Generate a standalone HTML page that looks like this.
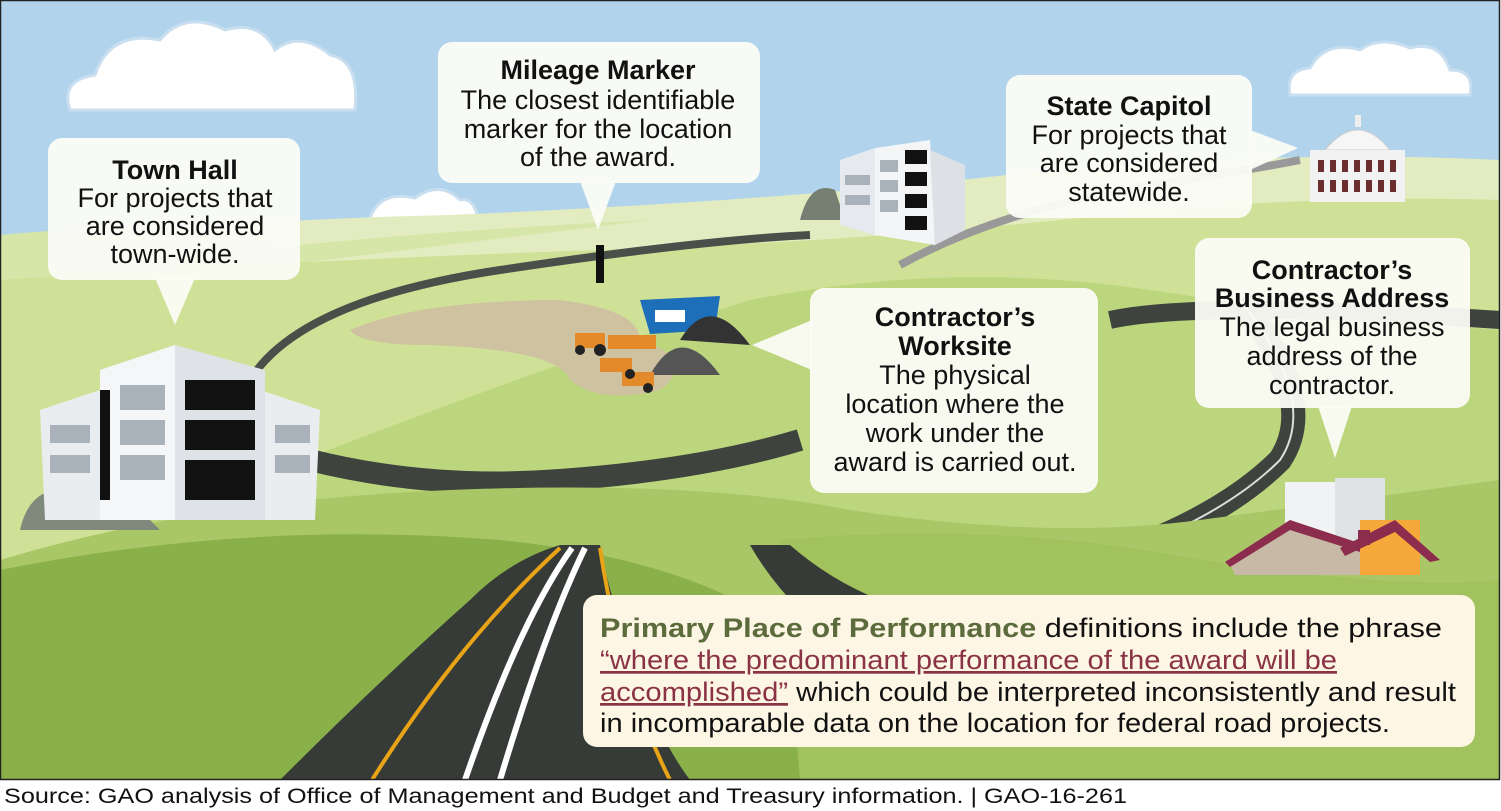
<!DOCTYPE html>
<html><head><meta charset="utf-8"><style>
html,body{margin:0;padding:0;background:#fff;width:1501px;height:811px;overflow:hidden}
svg{display:block}
text{font-family:"Liberation Sans",Arial,sans-serif}
</style></head><body>
<svg width="1501" height="811" viewBox="0 0 1501 811" xmlns="http://www.w3.org/2000/svg">
<defs><clipPath id="c"><rect x="1" y="1" width="1498" height="778"/></clipPath></defs>
<g clip-path="url(#c)">
<rect x="0" y="0" width="1501" height="780" fill="#b2d3ec"/>
<g fill="#fff" stroke="#c9dff0" stroke-width="3">
<path d="M70 110 Q60 80 95 75 Q110 30 160 40 Q185 10 225 30 Q260 20 275 50 Q300 30 330 55 Q360 60 355 110 Z"/>
<path d="M360 245 Q345 225 370 218 Q380 190 415 198 Q440 180 460 200 Q480 195 480 245 Z"/>
<path d="M1290 95 Q1285 70 1310 68 Q1325 40 1360 50 Q1380 35 1410 48 Q1440 40 1450 70 Q1475 70 1470 95 Z"/>
</g>
<path d="M0 250 Q200 220 450 215 Q800 200 1050 170 Q1300 150 1500 160 L1500 780 L0 780 Z" fill="#e3ecc0"/>
<path d="M0 235 Q150 220 300 245 Q450 230 650 220 L0 300 Z" fill="#d6e6a8"/>
<path d="M0 280 Q300 260 600 250 Q900 240 1150 210 Q1350 195 1500 200 L1500 780 L0 780 Z" fill="#cfe196"/>
<path d="M150 520 Q500 380 750 300 Q950 260 1150 290 Q1350 320 1500 330 L1500 780 L0 780 Z" fill="#bcd67e"/>
<path d="M250 380 Q300 300 500 270 Q700 240 810 235" stroke="#4a4f4a" stroke-width="8" fill="none"/>
<path d="M900 265 Q1000 210 1150 185 Q1250 170 1300 160" stroke="#999" stroke-width="8" fill="none"/>
<path d="M350 330 Q420 300 560 300 Q640 310 640 340 Q700 360 660 390 Q600 405 570 380 Q560 350 430 345 Q360 345 350 330Z" fill="#cfc2a0"/>
<path d="M310 460 Q430 490 560 480 Q700 470 800 440" stroke="#3e433e" stroke-width="22" fill="none"/>
<path d="M1500 320 Q1200 300 1110 320" stroke="#3e433e" stroke-width="18" fill="none"/>
<path d="M1240 300 Q1320 400 1280 460 Q1220 520 1100 560" stroke="#3e433e" stroke-width="24" fill="none"/>
<path d="M1240 300 Q1320 400 1280 460 Q1220 520 1100 560" stroke="#ddd" stroke-width="2" fill="none"/>
<path d="M0 560 Q200 500 450 490 Q700 480 850 510 Q1050 540 1200 520 Q1350 500 1500 480 L1500 780 L0 780 Z" fill="#a9c766"/>
<path d="M0 570 Q250 520 500 540 Q700 560 800 640 Q900 720 900 780 L0 780 Z" fill="#89b049"/>
<path d="M780 540 Q1000 520 1200 560 Q1400 590 1500 580 L1500 780 L800 780Z" fill="#a1c25c"/>
<path d="M280 780 Q380 680 470 600 Q510 560 560 545 L600 545 Q610 600 640 680 Q660 740 690 780 Z" fill="#363b37"/>
<path d="M750 545 L790 545 Q830 580 880 600 L800 610 Q770 580 750 545Z" fill="#363b37"/>
<path d="M372 780 Q460 640 560 548" stroke="#e8a317" stroke-width="4" fill="none"/>
<path d="M465 780 Q520 620 572 548" stroke="#fff" stroke-width="6" fill="none"/>
<path d="M500 780 Q545 630 585 548" stroke="#fff" stroke-width="6" fill="none"/>
<path d="M600 548 Q620 680 670 780" stroke="#e8a317" stroke-width="4" fill="none"/>
<rect x="596" y="245" width="8" height="38" fill="#111"/>
<polygon points="640,300 720,296 715,330 650,334" fill="#1c6fb8"/>
<rect x="655" y="310" width="30" height="12" fill="#fff"/>
<path d="M680 340 Q710 290 750 345 Z" fill="#333"/>
<path d="M650 375 Q680 320 720 375 Z" fill="#555"/>
<g fill="#e58a2a"><rect x="575" y="333" width="30" height="15"/><rect x="608" y="335" width="48" height="14"/><rect x="600" y="358" width="32" height="14"/><rect x="622" y="372" width="32" height="14"/></g>
<g fill="#222"><circle cx="580" cy="350" r="5"/><circle cx="600" cy="350" r="6"/><circle cx="630" cy="374" r="5"/><circle cx="648" cy="388" r="5"/></g>
<g>
<path d="M20 530 Q30 485 70 490 Q100 480 130 500 L160 530 Z" fill="#808a7c"/>
<polygon points="40,410 100,390 100,520 45,520" fill="#e9edf0"/>
<polygon points="260,390 320,410 315,520 260,520" fill="#e9edf0"/>
<polygon points="100,370 175,345 175,520 100,520" fill="#f4f6f8"/>
<polygon points="175,345 265,370 265,520 175,520" fill="#dfe3e7"/>
<g fill="#111"><rect x="185" y="380" width="70" height="30"/><rect x="185" y="420" width="70" height="30"/><rect x="185" y="460" width="70" height="40"/><rect x="100" y="390" width="10" height="110"/></g>
<g fill="#a9b2bb"><rect x="120" y="385" width="45" height="25"/><rect x="120" y="420" width="45" height="25"/><rect x="120" y="455" width="45" height="25"/><rect x="50" y="425" width="40" height="18"/><rect x="50" y="455" width="40" height="18"/><rect x="275" y="425" width="35" height="18"/><rect x="275" y="455" width="35" height="18"/></g>
</g>
<path d="M800 220 Q810 180 835 190 L845 220 Z" fill="#777e72"/>
<polygon points="840,160 875,148 875,235 840,225" fill="#e6eaee"/>
<polygon points="875,148 930,140 935,245 875,235" fill="#f3f5f7"/>
<polygon points="930,150 965,165 965,230 935,245" fill="#dde1e5"/>
<g fill="#111"><rect x="905" y="150" width="22" height="14"/><rect x="905" y="172" width="22" height="14"/><rect x="905" y="194" width="22" height="14"/><rect x="905" y="216" width="22" height="14"/></g>
<g fill="#a9b2bb"><rect x="880" y="160" width="18" height="12"/><rect x="880" y="180" width="18" height="12"/><rect x="880" y="200" width="18" height="12"/><rect x="845" y="175" width="25" height="10"/><rect x="845" y="195" width="25" height="10"/></g>
<path d="M1325 150 Q1358 110 1390 150 Z" fill="#f6f6f6" stroke="#ccc"/>
<rect x="1355" y="115" width="6" height="12" fill="#eee"/>
<rect x="1310" y="150" width="95" height="52" fill="#f2f2f2"/>
<g fill="#6b2e2e"><rect x="1318" y="160" width="6" height="12"/><rect x="1330" y="160" width="6" height="12"/><rect x="1342" y="160" width="6" height="12"/><rect x="1354" y="160" width="6" height="12"/><rect x="1366" y="160" width="6" height="12"/><rect x="1378" y="160" width="6" height="12"/><rect x="1390" y="160" width="6" height="12"/><rect x="1318" y="180" width="6" height="12"/><rect x="1330" y="180" width="6" height="12"/><rect x="1342" y="180" width="6" height="12"/><rect x="1354" y="180" width="6" height="12"/><rect x="1366" y="180" width="6" height="12"/><rect x="1378" y="180" width="6" height="12"/><rect x="1390" y="180" width="6" height="12"/></g>
<rect x="1285" y="482" width="50" height="70" fill="#f0f2f3"/>
<rect x="1335" y="478" width="50" height="72" fill="#dfe3e6"/>
<polygon points="1228,560 1290,520 1360,548 1360,575 1235,575" fill="#c7b9a6"/>
<polygon points="1225,562 1290,520 1365,545 1360,552 1290,530 1230,567" fill="#8c2d4d"/>
<rect x="1360" y="520" width="60" height="55" fill="#f6a93a"/>
<polygon points="1340,548 1395,520 1440,560 1430,562 1395,532 1345,556" fill="#8c2d4d"/>
<rect x="1358" y="530" width="12" height="15" fill="#8c2d4d"/>
</g>
<rect x="0.5" y="0.5" width="1499" height="779" fill="none" stroke="#222" stroke-width="1.5"/>
<g fill="#fbfcf6" fill-opacity="0.95">
<rect x="48" y="138" width="252" height="142" rx="14"/><polygon points="155,278 195,278 175,325"/>
<rect x="438" y="42" width="322" height="141" rx="14"/><polygon points="580,181 616,181 598,230"/>
<rect x="1006" y="75" width="246" height="143" rx="14"/><polygon points="1250,130 1250,170 1298,148"/>
<rect x="810" y="288" width="288" height="205" rx="14"/><polygon points="812,320 812,370 752,345"/>
<rect x="1195" y="238" width="275" height="170" rx="14"/><polygon points="1318,406 1352,406 1335,458"/>
</g>
<rect x="583" y="595" width="892" height="152" rx="14" fill="#fdf6e4"/>
<g font-size="27" fill="#111" text-anchor="middle">
<text x="175" y="179" font-weight="bold">Town Hall</text>
<text x="175" y="207">For projects that</text><text x="175" y="235">are considered</text><text x="175" y="263">town-wide.</text>
<text x="598" y="79" font-weight="bold">Mileage Marker</text>
<text x="598" y="109">The closest identifiable</text><text x="598" y="138">marker for the location</text><text x="598" y="166">of the award.</text>
<text x="1129" y="115" font-weight="bold">State Capitol</text>
<text x="1129" y="144">For projects that</text><text x="1129" y="172">are considered</text><text x="1129" y="201">statewide.</text>
<text x="955" y="326" font-weight="bold">Contractor’s</text><text x="955" y="355" font-weight="bold">Worksite</text>
<text x="955" y="384">The physical</text><text x="955" y="413">location where the</text><text x="955" y="442">work under the</text><text x="955" y="471">award is carried out.</text>
<text x="1332" y="279" font-weight="bold">Contractor’s</text><text x="1332" y="307" font-weight="bold">Business Address</text>
<text x="1332" y="336">The legal business</text><text x="1332" y="365">address of the</text><text x="1332" y="394">contractor.</text>
</g>
<g font-size="27" fill="#111">
<text x="600" y="637" textLength="842" lengthAdjust="spacingAndGlyphs"><tspan font-weight="bold" fill="#5c6b3c">Primary Place of Performance</tspan> definitions include the phrase</text>
<text x="600" y="669" fill="#8b3346" text-decoration="underline" textLength="737" lengthAdjust="spacingAndGlyphs">“where the predominant performance of the award will be</text>
<text x="600" y="701" textLength="856" lengthAdjust="spacingAndGlyphs"><tspan fill="#8b3346" text-decoration="underline">accomplished”</tspan> which could be interpreted inconsistently and result</text>
<text x="600" y="732" textLength="790" lengthAdjust="spacingAndGlyphs">in incomparable data on the location for federal road projects.</text>
</g>
<text x="4" y="803" font-size="21" fill="#111" textLength="1123" lengthAdjust="spacingAndGlyphs">Source: GAO analysis of Office of Management and Budget and Treasury information.  |  GAO-16-261</text>
</svg>
</body></html>
